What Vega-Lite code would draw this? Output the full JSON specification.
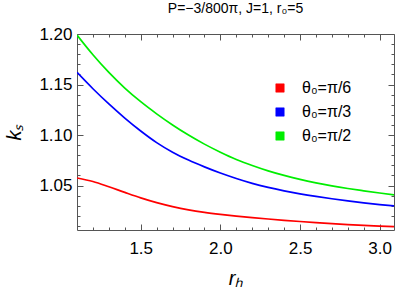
{
  "$schema": "https://vega.github.io/schema/vega-lite/v6.json",
  "width": 317,
  "height": 196,
  "autosize": {"type": "none"},
  "padding": {"left": 77, "top": 34, "right": 2, "bottom": 61},
  "background": "white",
  "config": {
    "font": "Liberation Sans",
    "view": {"stroke": "#555555", "strokeWidth": 1},
    "axis": {"domain": false, "grid": false, "tickColor": "#555555", "labelColor": "black", "labelFont": "Liberation Sans", "labelFontSize": 17, "titleFont": "Liberation Sans", "titleColor": "black"}
  },
  "title": {"text": "P=−3/800π, J=1, r₀=5", "fontSize": 14, "fontWeight": "normal", "font": "Liberation Sans", "color": "black", "offset": 9, "anchor": "middle"},
  "data": {"values": [
    {"r": 1.1, "k": 1.0575, "s": "θ₀=π/6"},
    {"r": 1.2, "k": 1.054, "s": "θ₀=π/6"},
    {"r": 1.3, "k": 1.0488, "s": "θ₀=π/6"},
    {"r": 1.4, "k": 1.0432, "s": "θ₀=π/6"},
    {"r": 1.5, "k": 1.0378, "s": "θ₀=π/6"},
    {"r": 1.6, "k": 1.0331, "s": "θ₀=π/6"},
    {"r": 1.7, "k": 1.0292, "s": "θ₀=π/6"},
    {"r": 1.8, "k": 1.026, "s": "θ₀=π/6"},
    {"r": 1.9, "k": 1.0235, "s": "θ₀=π/6"},
    {"r": 2.0, "k": 1.0215, "s": "θ₀=π/6"},
    {"r": 2.1, "k": 1.0198, "s": "θ₀=π/6"},
    {"r": 2.2, "k": 1.0183, "s": "θ₀=π/6"},
    {"r": 2.3, "k": 1.0169, "s": "θ₀=π/6"},
    {"r": 2.4, "k": 1.0156, "s": "θ₀=π/6"},
    {"r": 2.5, "k": 1.0144, "s": "θ₀=π/6"},
    {"r": 2.6, "k": 1.0133, "s": "θ₀=π/6"},
    {"r": 2.7, "k": 1.0123, "s": "θ₀=π/6"},
    {"r": 2.8, "k": 1.0114, "s": "θ₀=π/6"},
    {"r": 2.9, "k": 1.0106, "s": "θ₀=π/6"},
    {"r": 3.0, "k": 1.0099, "s": "θ₀=π/6"},
    {"r": 3.09, "k": 1.0093, "s": "θ₀=π/6"},
    {"r": 1.1, "k": 1.162, "s": "θ₀=π/3"},
    {"r": 1.2, "k": 1.1458, "s": "θ₀=π/3"},
    {"r": 1.3, "k": 1.1308, "s": "θ₀=π/3"},
    {"r": 1.4, "k": 1.1168, "s": "θ₀=π/3"},
    {"r": 1.5, "k": 1.104, "s": "θ₀=π/3"},
    {"r": 1.6, "k": 1.0925, "s": "θ₀=π/3"},
    {"r": 1.7, "k": 1.083, "s": "θ₀=π/3"},
    {"r": 1.8, "k": 1.0752, "s": "θ₀=π/3"},
    {"r": 1.9, "k": 1.0685, "s": "θ₀=π/3"},
    {"r": 2.0, "k": 1.0624, "s": "θ₀=π/3"},
    {"r": 2.1, "k": 1.057, "s": "θ₀=π/3"},
    {"r": 2.2, "k": 1.0522, "s": "θ₀=π/3"},
    {"r": 2.3, "k": 1.0482, "s": "θ₀=π/3"},
    {"r": 2.4, "k": 1.0448, "s": "θ₀=π/3"},
    {"r": 2.5, "k": 1.0418, "s": "θ₀=π/3"},
    {"r": 2.6, "k": 1.0392, "s": "θ₀=π/3"},
    {"r": 2.7, "k": 1.0369, "s": "θ₀=π/3"},
    {"r": 2.8, "k": 1.0348, "s": "θ₀=π/3"},
    {"r": 2.9, "k": 1.0329, "s": "θ₀=π/3"},
    {"r": 3.0, "k": 1.0312, "s": "θ₀=π/3"},
    {"r": 3.09, "k": 1.0298, "s": "θ₀=π/3"},
    {"r": 1.1, "k": 1.199, "s": "θ₀=π/2"},
    {"r": 1.2, "k": 1.1795, "s": "θ₀=π/2"},
    {"r": 1.3, "k": 1.162, "s": "θ₀=π/2"},
    {"r": 1.4, "k": 1.1465, "s": "θ₀=π/2"},
    {"r": 1.5, "k": 1.133, "s": "θ₀=π/2"},
    {"r": 1.6, "k": 1.121, "s": "θ₀=π/2"},
    {"r": 1.7, "k": 1.11, "s": "θ₀=π/2"},
    {"r": 1.8, "k": 1.1, "s": "θ₀=π/2"},
    {"r": 1.9, "k": 1.091, "s": "θ₀=π/2"},
    {"r": 2.0, "k": 1.083, "s": "θ₀=π/2"},
    {"r": 2.1, "k": 1.0758, "s": "θ₀=π/2"},
    {"r": 2.2, "k": 1.0698, "s": "θ₀=π/2"},
    {"r": 2.3, "k": 1.0645, "s": "θ₀=π/2"},
    {"r": 2.4, "k": 1.06, "s": "θ₀=π/2"},
    {"r": 2.5, "k": 1.0561, "s": "θ₀=π/2"},
    {"r": 2.6, "k": 1.0527, "s": "θ₀=π/2"},
    {"r": 2.7, "k": 1.0497, "s": "θ₀=π/2"},
    {"r": 2.8, "k": 1.0471, "s": "θ₀=π/2"},
    {"r": 2.9, "k": 1.0448, "s": "θ₀=π/2"},
    {"r": 3.0, "k": 1.0426, "s": "θ₀=π/2"},
    {"r": 3.09, "k": 1.0407, "s": "θ₀=π/2"}
  ]},
  "layer": [
    {
      "mark": {"type": "line", "interpolate": "monotone", "strokeWidth": 1.7, "clip": true},
      "encoding": {
        "x": {"field": "r", "type": "quantitative", "scale": {"domain": [1.1, 3.09], "nice": false, "zero": false},
              "axis": {"orient": "bottom", "values": [1.5, 2.0, 2.5, 3.0], "format": ".1f", "tickSize": -6, "labelPadding": 16, "title": "rₕ", "titleFontSize": 20, "titleFontStyle": "italic", "titleFontWeight": "normal", "titlePadding": 12}},
        "y": {"field": "k", "type": "quantitative", "scale": {"domain": [1.006, 1.2], "nice": false, "zero": false},
              "axis": {"orient": "left", "values": [1.05, 1.1, 1.15, 1.2], "format": ".2f", "tickSize": -6, "labelPadding": 11, "title": "kₛ", "titleFontSize": 20, "titleFontStyle": "italic", "titleFontWeight": "normal", "titlePadding": 14}},
        "color": {"field": "s", "type": "nominal", "sort": ["θ₀=π/6", "θ₀=π/3", "θ₀=π/2"],
                  "scale": {"domain": ["θ₀=π/6", "θ₀=π/3", "θ₀=π/2"], "range": ["#ff0000", "#0000ff", "#00ee00"]},
                  "legend": {"orient": "none", "legendX": 195, "legendY": 46, "title": null, "symbolType": "square", "symbolSize": 70, "symbolOpacity": 1, "labelFontSize": 16, "labelFont": "Liberation Sans", "labelOffset": 14, "rowPadding": 8, "padding": 0,
                             "encode": {"symbols": {"update": {"fill": {"scale": "color", "field": "value"}, "stroke": {"value": "#b0b0b0"}, "strokeWidth": {"value": 0.6}, "opacity": {"value": 1}}}}}}
      }
    },
    {
      "mark": {"type": "point", "opacity": 0},
      "encoding": {
        "x": {"field": "r", "type": "quantitative", "axis": {"orient": "bottom", "values": [1.2, 1.3, 1.4, 1.6, 1.7, 1.8, 1.9, 2.1, 2.2, 2.3, 2.4, 2.6, 2.7, 2.8, 2.9], "labels": false, "tickSize": -3, "title": null}},
        "y": {"field": "k", "type": "quantitative", "axis": {"orient": "left", "values": [1.01, 1.02, 1.03, 1.04, 1.06, 1.07, 1.08, 1.09, 1.11, 1.12, 1.13, 1.14, 1.16, 1.17, 1.18, 1.19], "labels": false, "tickSize": -3, "title": null}}
      }
    },
    {
      "mark": {"type": "point", "opacity": 0},
      "encoding": {
        "x": {"field": "r", "type": "quantitative", "axis": {"orient": "top", "values": [1.5, 2.0, 2.5, 3.0], "labels": false, "tickSize": -6, "title": null}},
        "y": {"field": "k", "type": "quantitative", "axis": {"orient": "right", "values": [1.05, 1.1, 1.15, 1.2], "labels": false, "tickSize": -6, "title": null}}
      }
    },
    {
      "mark": {"type": "point", "opacity": 0},
      "encoding": {
        "x": {"field": "r", "type": "quantitative", "axis": {"orient": "top", "values": [1.2, 1.3, 1.4, 1.6, 1.7, 1.8, 1.9, 2.1, 2.2, 2.3, 2.4, 2.6, 2.7, 2.8, 2.9], "labels": false, "tickSize": -3, "title": null}},
        "y": {"field": "k", "type": "quantitative", "axis": {"orient": "right", "values": [1.01, 1.02, 1.03, 1.04, 1.06, 1.07, 1.08, 1.09, 1.11, 1.12, 1.13, 1.14, 1.16, 1.17, 1.18, 1.19], "labels": false, "tickSize": -3, "title": null}}
      }
    }
  ],
  "resolve": {"axis": {"x": "independent", "y": "independent"}}
}
